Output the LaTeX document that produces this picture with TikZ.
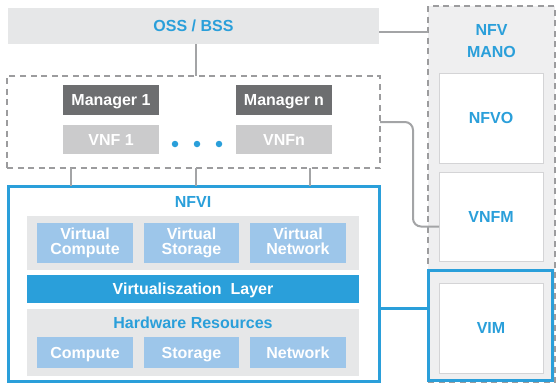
\documentclass[tikz,border=0pt]{standalone}
\usepackage{fontspec}
\setmainfont{Liberation Sans}
\usetikzlibrary{calc}
\definecolor{nblue}{HTML}{2A9FDA}
\definecolor{lblue}{HTML}{9DC6EA}
\definecolor{bggray}{HTML}{E6E7E8}
\definecolor{manogray}{HTML}{EFEFF0}
\definecolor{darkgray}{HTML}{6D6E70}
\definecolor{vnfgray}{HTML}{CBCBCC}
\definecolor{linegray}{HTML}{A3A4A6}
\definecolor{dashgray}{HTML}{9C9C9E}
\definecolor{thingray}{HTML}{D4D4D6}
\begin{document}
\begin{tikzpicture}[x=1pt,y=-1pt,
  base/.style={inner sep=0pt, outer sep=0pt, align=center, font=\fontsize{16}{15}\selectfont\bfseries},
  one/.style={text height=11.5pt, text depth=0pt},
  sz/.style 2 args={minimum width=#1, minimum height=#2},
  conn/.style={draw=linegray, line width=2pt},
  dashbox/.style={draw=dashgray, line width=1.5pt, dash pattern=on 6pt off 4.5pt},
  bluebox/.style={draw=nblue, line width=3pt},
  whitebox/.style={fill=white, draw=thingray, line width=1pt},
  lb/.style={fill=lblue, text=white},
  dot/.style={circle, fill=nblue, minimum size=6.5pt, inner sep=0pt}
]
\useasboundingbox (0,0) rectangle (557,383);

% NFV MANO column
\node[base, sz={127pt}{376pt}, fill=manogray, dashbox] (mano) at (491.5,194) {};
\node[base, text=nblue, font=\fontsize{16}{22}\selectfont\bfseries] (manolabel) at (491.5,41) {NFV\\MANO};
\node[base, one, sz={104pt}{90pt}, whitebox, text=nblue] (nfvo) at (491,118) {NFVO};
\node[base, one, sz={104pt}{89pt}, whitebox, text=nblue] (vnfm) at (491,216.5) {VNFM};
\node[base, sz={124pt}{110pt}, fill=manogray, bluebox] (vim) at (490.5,325.5) {};
\node[base, one, sz={104pt}{90pt}, whitebox, text=nblue] (viminner) at (491,328) {VIM};

% OSS/BSS
\node[base, one, sz={371pt}{36pt}, fill=bggray, text=nblue] (oss) at (193.5,26) {OSS / BSS};

% VNF group
\node[base, sz={373pt}{92pt}, dashbox] (vnfgroup) at (193.5,122) {};
\node[base, one, sz={96pt}{30pt}, fill=darkgray, text=white] (mgr1) at (111,100) {Manager 1};
\node[base, one, sz={96pt}{30pt}, fill=darkgray, text=white] (mgrn) at (284,100) {Manager n};
\node[base, one, sz={96pt}{29pt}, fill=vnfgray, text=white] (vnf1) at (111,139.5) {VNF 1};
\node[base, one, sz={96pt}{29pt}, fill=vnfgray, text=white] (vnfn) at (284,139.5) {VNFn};
\node[dot] (d1) at (175,144) {};
\node[dot] (d2) at (197,144) {};
\node[dot] (d3) at (219,144) {};

% NFVI
\node[base, sz={371pt}{195pt}, bluebox] (nfvi) at (193.5,283.5) {};
\node[base, one, text=nblue] (nfvilabel) at (193,202) {NFVI};
\node[base, sz={332pt}{54pt}, fill=bggray] (vrow) at (193,243) {};
\node[base, sz={96pt}{40pt}, lb] (vc) at (85,243) {Virtual\\Compute};
\node[base, sz={95pt}{40pt}, lb] (vs) at (191.5,243) {Virtual\\Storage};
\node[base, sz={96pt}{40pt}, lb] (vn) at (298,243) {Virtual\\Network\vphantom{p}};
\node[base, one, sz={332pt}{28pt}, fill=nblue, text=white] (vl) at (193,289) {Virtualiszation\ \ Layer};
\node[base, sz={332pt}{67pt}, fill=bggray] (hw) at (193,342.5) {};
\node[base, one, text=nblue] (hwlabel) at (193,323) {Hardware Resources};
\node[base, one, sz={96pt}{31pt}, lb] (hc) at (85,352.5) {Compute};
\node[base, one, sz={95pt}{31pt}, lb] (hs) at (191.5,352.5) {Storage};
\node[base, one, sz={96pt}{31pt}, lb] (hn) at (298,352.5) {Network};

% connectors
\draw[conn] ([xshift=2.5pt]oss.south) -- ([xshift=2.5pt]vnfgroup.north);
\draw[conn] ([yshift=-6pt]oss.east) -- ([yshift=-6pt]oss.east -| mano.west);
\draw[conn] ([xshift=-122.5pt]vnfgroup.south) -- ([xshift=-122.5pt]nfvi.north);
\draw[conn] ([xshift=2.5pt]vnfgroup.south) -- ([xshift=2.5pt]nfvi.north);
\draw[conn] ([xshift=116.5pt]vnfgroup.south) -- ([xshift=116.5pt]nfvi.north);
\draw[conn, rounded corners=8pt] (vnfgroup.east) -- ++(33,0) |- ([yshift=-10pt]vnfm.west);
\draw[bluebox] ([yshift=-24.5pt]nfvi.east) -- ([yshift=-24.5pt]nfvi.east -| vim.west);
\end{tikzpicture}
\end{document}
